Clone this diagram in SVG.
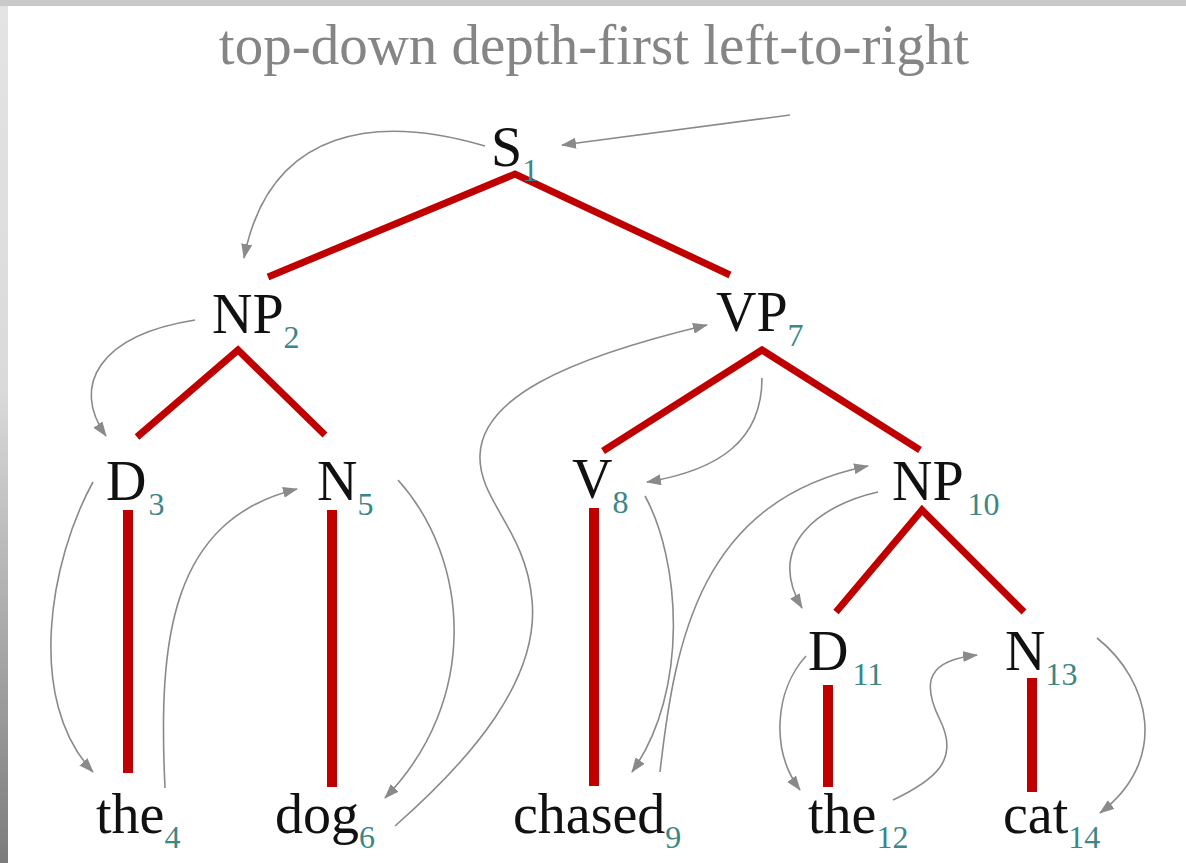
<svg xmlns="http://www.w3.org/2000/svg" width="1186" height="863" viewBox="0 0 1186 863">
<style>
.lab{font-family:"Liberation Serif","Times New Roman",serif;font-size:56px;fill:#111}
.sub{font-size:32px;fill:#3b8686}
.title{font-family:"Liberation Serif","Times New Roman",serif;font-size:57px;fill:#858585}
.tree{fill:none;stroke:#c00000;stroke-width:7;stroke-linejoin:miter}
.bar{fill:none;stroke:#c00000;stroke-width:10}
.arr{fill:none;stroke:#8a8a8a;stroke-width:1.6;marker-end:url(#ah)}
</style>
<defs>
<marker id="ah" markerUnits="userSpaceOnUse" markerWidth="15" markerHeight="11" refX="14" refY="5.5" orient="auto">
<path d="M0,0 L15,5.5 L0,11 z" fill="#8a8a8a"/>
</marker>
<linearGradient id="lg" x1="0" y1="0" x2="0" y2="1">
<stop offset="0" stop-color="#e4e4e4"/>
<stop offset="0.45" stop-color="#dadada"/>
<stop offset="1" stop-color="#7c7c7c"/>
</linearGradient>
</defs>
<rect x="0" y="0" width="1186" height="863" fill="#ffffff"/>
<rect x="0" y="0" width="8" height="863" fill="url(#lg)"/>
<rect x="0" y="0" width="1186" height="6" fill="#c9c9c9"/>
<text class="title" x="594" y="64" text-anchor="middle">top-down depth-first left-to-right</text>

<g id="tree-edges">
<polyline class="tree" points="268,277 515,174 730,275"/>
<polyline class="tree" points="137,437 238,350 325,435"/>
<polyline class="tree" points="603,451 762,350 920,450"/>
<polyline class="tree" points="836,612 922,510 1024,612"/>
<line class="bar" x1="128" y1="510" x2="128" y2="773"/>
<line class="bar" x1="332" y1="510" x2="332" y2="787"/>
<line class="bar" x1="594" y1="508" x2="594" y2="786"/>
<line class="bar" x1="828" y1="685" x2="828" y2="787"/>
<line class="bar" x1="1032" y1="678" x2="1032" y2="792"/>
</g>

<g id="traversal">
<path class="arr" d="M790,115 L562,145"/>
<path class="arr" d="M485,146 C380,115 270,125 244,258"/>
<path class="arr" d="M195,320 C100,335 70,385 106,436"/>
<path class="arr" d="M93,482 C50,560 25,700 93,772"/>
<path class="arr" d="M165,788 C158,640 170,520 297,489"/>
<path class="arr" d="M398,480 C470,560 480,700 385,798"/>
<path class="arr" d="M395,826 C470,760 540,680 532,600 C526,530 478,500 480,455 C482,400 560,360 707,325"/>
<path class="arr" d="M762,378 C762,440 720,470 647,482"/>
<path class="arr" d="M645,496 C680,560 690,690 632,772"/>
<path class="arr" d="M660,772 C675,640 700,500 868,466"/>
<path class="arr" d="M878,492 C820,505 765,545 802,608"/>
<path class="arr" d="M806,656 C775,690 770,750 800,790"/>
<path class="arr" d="M893,800 C935,780 960,760 940,720 C920,680 930,660 977,655"/>
<path class="arr" d="M1097,638 C1150,680 1170,760 1100,813"/>
</g>

<g id="S1"><text class="lab" x="491" y="166">S<tspan class="sub" dy="15">1</tspan></text></g>
<g id="NP2"><text class="lab" x="212" y="333">NP<tspan class="sub" dy="15">2</tspan></text></g>
<g id="D3"><text class="lab" x="106" y="500">D<tspan class="sub" dx="2" dy="15">3</tspan></text></g>
<g id="the4"><text class="lab" x="96" y="833">the<tspan class="sub" dy="15">4</tspan></text></g>
<g id="N5"><text class="lab" x="317" y="500">N<tspan class="sub" dy="15">5</tspan></text></g>
<g id="dog6"><text class="lab" x="275" y="833">dog<tspan class="sub" dy="15">6</tspan></text></g>
<g id="VP7"><text class="lab" x="716" y="331">VP<tspan class="sub" dy="15">7</tspan></text></g>
<g id="V8"><text class="lab" x="572" y="498">V<tspan class="sub" dy="15">8</tspan></text></g>
<g id="chased9"><text class="lab" x="513" y="833">chased<tspan class="sub" dy="15">9</tspan></text></g>
<g id="NP10"><text class="lab" x="892" y="500">NP<tspan class="sub" dx="4" dy="15">10</tspan></text></g>
<g id="D11"><text class="lab" x="808" y="670">D<tspan class="sub" dx="4" dy="15">11</tspan></text></g>
<g id="the12"><text class="lab" x="808" y="833">the<tspan class="sub" dy="15">12</tspan></text></g>
<g id="N13"><text class="lab" x="1005" y="670">N<tspan class="sub" dy="15">13</tspan></text></g>
<g id="cat14"><text class="lab" x="1003" y="833">cat<tspan class="sub" dy="15">14</tspan></text></g>
</svg>
